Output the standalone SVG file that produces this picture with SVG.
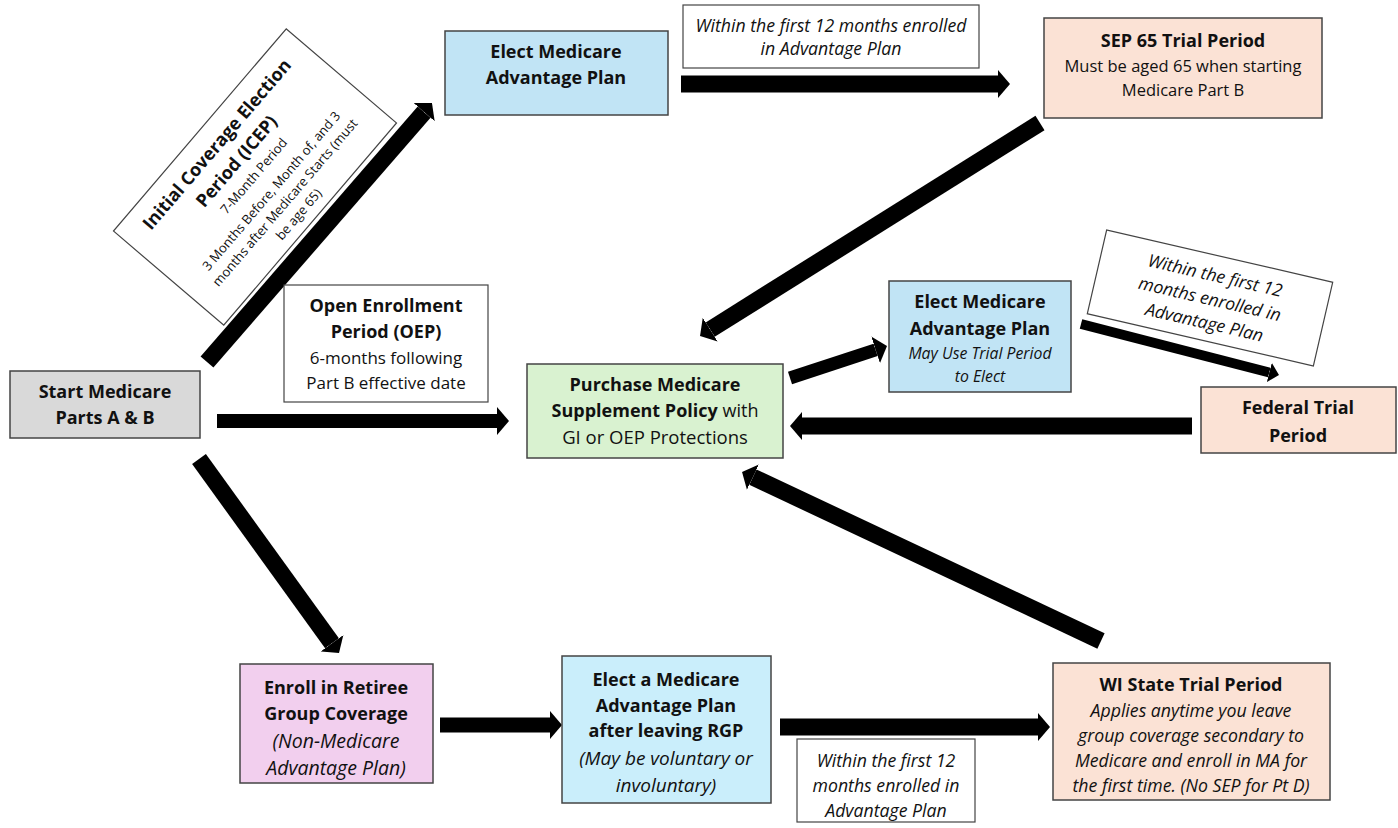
<svg xmlns="http://www.w3.org/2000/svg" width="1398" height="828" viewBox="0 0 1398 828">
<style>
.box{stroke:#444;stroke-width:1.5}
.lbl{fill:#fff;stroke:#444;stroke-width:1.2}
text{font-family:"Open Sans","Liberation Sans",sans-serif;fill:#111;text-anchor:middle}
.b{font-weight:bold;font-size:18px}
.r{font-size:16.5px}
.i{font-style:italic;font-size:17.7px}
.s{font-size:13px}
.arr{stroke:#000;fill:none;stroke-linecap:butt;marker-end:url(#ah)}
</style>
<defs>
<marker id="ah" markerUnits="userSpaceOnUse" viewBox="0 -14 12 28" refX="0" refY="0" markerWidth="12" markerHeight="28" orient="auto">
<path d="M0,-14 L12,0 L0,14 z" fill="#000"/>
</marker>
<marker id="ahs" markerUnits="userSpaceOnUse" viewBox="0 -10 10 20" refX="0" refY="0" markerWidth="10" markerHeight="20" orient="auto">
<path d="M0,-10 L10,0 L0,10 z" fill="#000"/>
</marker>
</defs>

<g id="connectors">
<line class="arr" x1="207" y1="362" x2="424.1" y2="112.1" stroke-width="17"/>
<line class="arr" x1="681" y1="84" x2="998" y2="84" stroke-width="17"/>
<line class="arr" x1="1040" y1="123" x2="710.2" y2="329.6" stroke-width="17"/>
<line class="arr" x1="217" y1="421" x2="497" y2="421" stroke-width="14"/>
<line class="arr" x1="790" y1="378" x2="875.6" y2="349.8" stroke-width="13"/>
<line x1="1081" y1="324" x2="1269.3" y2="372.5" stroke="#000" stroke-width="10" marker-end="url(#ahs)"/>
<line class="arr" x1="1192" y1="426" x2="802" y2="426" stroke-width="17"/>
<line class="arr" x1="1101" y1="641" x2="752.9" y2="477.1" stroke-width="17"/>
<line class="arr" x1="199" y1="459" x2="332" y2="643.3" stroke-width="17"/>
<line class="arr" x1="440" y1="725" x2="550" y2="725" stroke-width="15"/>
<line class="arr" x1="780" y1="727" x2="1038" y2="727" stroke-width="17"/>
</g>

<g id="icep" transform="translate(255,177) rotate(-49.5)">
<rect class="lbl" x="-133" y="-72.5" width="266" height="145"/>
<text class="b" x="0" y="-44">Initial Coverage Election</text>
<text class="b" x="0" y="-18">Period (ICEP)</text>
<text class="s" x="0" y="3">7-Month Period</text>
<text class="s" x="0" y="26">3 Months Before, Month of, and 3</text>
<text class="s" x="0" y="44">months after Medicare Starts (must</text>
<text class="s" x="0" y="62">be age 65)</text>
</g>

<g id="start">
<rect class="box" x="10" y="371" width="190" height="67" fill="#d9d9d9"/>
<text class="b" x="105" y="398">Start Medicare</text>
<text class="b" x="105" y="424">Parts A &amp; B</text>
</g>

<g id="oep">
<rect class="lbl" x="284" y="285" width="204" height="117"/>
<text class="b" x="386" y="312">Open Enrollment</text>
<text class="b" x="386" y="338">Period (OEP)</text>
<text class="r" x="386" y="364" style="font-size:17px">6-months following</text>
<text class="r" x="386" y="389" style="font-size:17px">Part B effective date</text>
</g>

<g id="elect-top">
<rect class="box" x="445" y="31" width="223" height="84" fill="#c1e4f5"/>
<text class="b" x="556" y="58">Elect Medicare</text>
<text class="b" x="556" y="84">Advantage Plan</text>
</g>

<g id="label-top">
<rect class="lbl" x="683" y="5" width="296" height="63"/>
<text class="i" x="831" y="32">Within the first 12 months enrolled</text>
<text class="i" x="831" y="55">in Advantage Plan</text>
</g>

<g id="sep65">
<rect class="box" x="1044" y="18" width="278" height="100" fill="#fbe2d5"/>
<text class="b" x="1183" y="47">SEP 65 Trial Period</text>
<text class="r" x="1183" y="72">Must be aged 65 when starting</text>
<text class="r" x="1183" y="96">Medicare Part B</text>
</g>

<g id="purchase">
<rect class="box" x="527" y="364" width="256" height="94" fill="#d9f2d0"/>
<text class="b" x="655" y="391">Purchase Medicare</text>
<text x="655" y="417"><tspan class="b">Supplement Policy</tspan><tspan style="font-size:18px"> with</tspan></text>
<text x="655" y="444" style="font-size:18.5px">GI or OEP Protections</text>
</g>

<g id="elect-mid">
<rect class="box" x="889" y="281" width="182" height="111" fill="#c1e4f5"/>
<text class="b" x="980" y="308">Elect Medicare</text>
<text class="b" x="980" y="335">Advantage Plan</text>
<text class="i" x="980" y="359" style="font-size:15.8px">May Use Trial Period</text>
<text class="i" x="980" y="382" style="font-size:15.8px">to Elect</text>
</g>

<g id="label-right" transform="translate(1210,298) rotate(13)">
<rect class="lbl" x="-116" y="-43" width="232" height="86"/>
<text class="i" x="0" y="-17" style="font-size:17.5px">Within the first 12</text>
<text class="i" x="0" y="7" style="font-size:17.5px">months enrolled in</text>
<text class="i" x="0" y="31" style="font-size:17.5px">Advantage Plan</text>
</g>

<g id="federal">
<rect class="box" x="1201" y="387" width="195" height="66" fill="#fbe2d5"/>
<text class="b" x="1298" y="414">Federal Trial</text>
<text class="b" x="1298" y="442">Period</text>
</g>

<g id="retiree">
<rect class="box" x="240" y="664" width="193" height="119" fill="#f2cfee"/>
<text class="b" x="336" y="694">Enroll in Retiree</text>
<text class="b" x="336" y="720">Group Coverage</text>
<text class="i" x="336" y="748" style="font-size:19.5px">(Non-Medicare</text>
<text class="i" x="336" y="775" style="font-size:19.5px">Advantage Plan)</text>
</g>

<g id="elect-a">
<rect class="box" x="562" y="656" width="209" height="147" fill="#caeefb"/>
<text class="b" x="666" y="686">Elect a Medicare</text>
<text class="b" x="666" y="712">Advantage Plan</text>
<text class="b" x="666" y="737">after leaving RGP</text>
<text class="i" x="666" y="765" style="font-size:19px">(May be voluntary or</text>
<text class="i" x="666" y="792" style="font-size:19px">involuntary)</text>
</g>

<g id="label-bottom">
<rect class="lbl" x="797" y="739" width="178" height="83"/>
<text class="i" x="886" y="767">Within the first 12</text>
<text class="i" x="886" y="792">months enrolled in</text>
<text class="i" x="886" y="817">Advantage Plan</text>
</g>

<g id="wi">
<rect class="box" x="1053" y="663" width="277" height="137" fill="#fbe2d5"/>
<text class="b" x="1191" y="691">WI State Trial Period</text>
<text class="i" x="1191" y="717">Applies anytime you leave</text>
<text class="i" x="1191" y="742">group coverage secondary to</text>
<text class="i" x="1191" y="767">Medicare and enroll in MA for</text>
<text class="i" x="1191" y="792">the first time. (No SEP for Pt D)</text>
</g>
</svg>
